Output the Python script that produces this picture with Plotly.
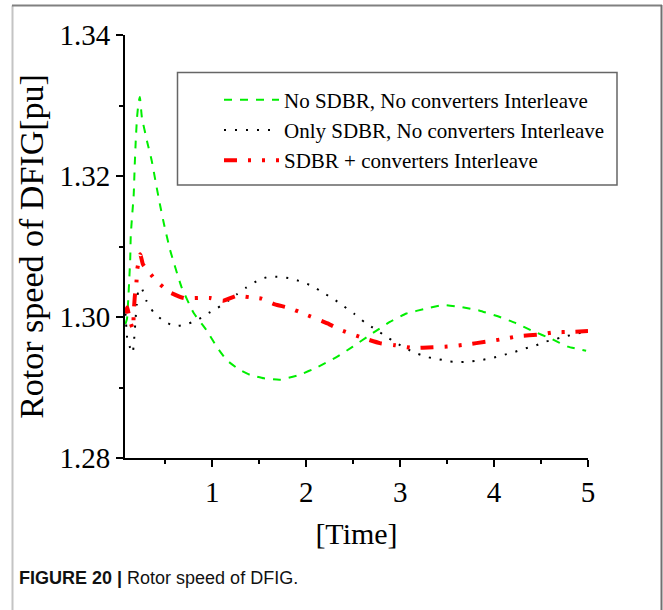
import plotly.graph_objects as go

# ---- data ----
t_green = [0.075, 0.092, 0.105, 0.116, 0.126, 0.131, 0.145, 0.163, 0.173, 0.184, 0.198, 0.215, 0.228,
           0.25, 0.307, 0.354, 0.40, 0.44, 0.485, 0.55, 0.673, 0.80, 0.939, 1.05, 1.152, 1.28, 1.40,
           1.55, 1.72, 1.93, 2.12, 2.322, 2.496, 2.695, 2.89, 3.067, 3.28, 3.456, 3.652, 3.847, 4.04,
           4.22, 4.414, 4.61, 4.786, 4.98]
w_green = [1.2990, 1.2998, 1.3026, 1.3055, 1.3084, 1.3115, 1.3142, 1.3174, 1.3213, 1.3249, 1.3283, 1.3305, 1.3312,
           1.3283, 1.3248, 1.3222, 1.3189, 1.3161, 1.3132, 1.3095, 1.3042, 1.3006, 1.2981, 1.2957, 1.2939, 1.2926, 1.2918,
           1.2913, 1.2911, 1.2918, 1.2929, 1.2943, 1.2958, 1.2976, 1.2993, 1.3005, 1.3012, 1.3017, 1.3014, 1.3009, 1.3001,
           1.2992, 1.2980, 1.2969, 1.2958, 1.2952]

t_black = [0.075, 0.095, 0.123, 0.152, 0.166, 0.184, 0.195, 0.209, 0.244, 0.294, 0.371, 0.485, 0.599, 0.705,
           0.833, 0.939, 1.046, 1.169, 1.258, 1.365, 1.488, 1.595, 1.719, 1.826, 1.95, 2.063, 2.173, 2.286,
           2.393, 2.506, 2.616, 2.73, 2.844, 2.96, 3.067, 3.184, 3.297, 3.414, 3.528, 3.645, 3.759, 3.871,
           3.982, 4.095, 4.209, 4.322, 4.432, 4.549, 4.663, 4.776, 5.0]
w_black = [1.3005, 1.2968, 1.2957, 1.2949, 1.2966, 1.3000, 1.3018, 1.3035, 1.3042, 1.3024, 1.3007, 1.2994, 1.2987, 1.2989,
           1.2995, 1.3004, 1.3012, 1.3023, 1.3032, 1.3042, 1.3052, 1.3057, 1.3057, 1.3055, 1.3050, 1.3044, 1.3035, 1.3026,
           1.3016, 1.3005, 1.2993, 1.2983, 1.2973, 1.2963, 1.2955, 1.2948, 1.2943, 1.2940, 1.2937, 1.2936, 1.2937, 1.2939,
           1.2942, 1.2946, 1.2950, 1.2955, 1.2959, 1.2965, 1.2969, 1.2973, 1.2980]

t_red = [0.075, 0.095, 0.12, 0.155, 0.163, 0.175, 0.19, 0.201, 0.233, 0.26, 0.307, 0.36, 0.414, 0.546, 0.695,
         0.85, 0.975, 1.116, 1.258, 1.40, 1.525, 1.666, 1.815, 1.985, 2.227, 2.376, 2.588, 2.783, 2.943,
         3.137, 3.35, 3.503, 3.705, 3.918, 4.06, 4.272, 4.474, 4.627, 4.833, 5.0]
w_red = [1.3005, 1.3014, 1.2996, 1.2983, 1.3006, 1.3030, 1.3045, 1.3068, 1.3089, 1.3075, 1.3066, 1.3058, 1.3050, 1.3035, 1.3027,
         1.3027, 1.3027, 1.3023, 1.3030, 1.3028, 1.3026, 1.3018, 1.3013, 1.3004, 1.2991, 1.2981, 1.2971, 1.2963, 1.2960,
         1.2956, 1.2957, 1.2958, 1.2961, 1.2965, 1.2968, 1.2973, 1.2975, 1.2978, 1.2979, 1.2980]

names = ["No SDBR, No converters Interleave",
         "Only SDBR, No converters Interleave",
         "SDBR + converters Interleave"]
x_ticks = [1, 2, 3, 4, 5]
y_ticks = [1.28, 1.30, 1.32, 1.34]

SERIF = "Liberation Serif"

fig = go.Figure()
fig.add_trace(go.Scatter(x=t_green, y=w_green, mode="lines", name=names[0],
                         line=dict(color="#00ee00", width=2, dash="8px,8px", shape="spline", smoothing=0.4)))
fig.add_trace(go.Scatter(x=t_black, y=w_black, mode="lines", name=names[1],
                         line=dict(color="black", width=2, dash="2px,9px", shape="spline", smoothing=0.4)))
fig.add_trace(go.Scatter(x=t_red, y=w_red, mode="lines", name=names[2],
                         line=dict(color="#ff0000", width=4, dash="13px,11px,3px,11px,3px,11px",
                                   shape="spline", smoothing=0.4)))

L, R, T, B = 125, 75, 35, 152
W, H = 663, 610
pw, ph = W - L - R, H - T - B

def px2x(px):
    return (px - L) / pw

def py2y(py):
    return (H - B - py) / ph

shapes = [
    # legend frame
    dict(type="rect", xref="paper", yref="paper", x0=px2x(177.5), x1=px2x(617), y0=py2y(185), y1=py2y(72.5),
         line=dict(color="#666666", width=1.5), fillcolor="rgba(0,0,0,0)", layer="below"),
    # outer page frame
    dict(type="line", xref="paper", yref="paper", x0=px2x(12.5), x1=px2x(12.5), y0=py2y(5.5), y1=py2y(612),
         line=dict(color="#c4c4c4", width=2)),
    dict(type="line", xref="paper", yref="paper", x0=px2x(12), x1=px2x(662), y0=py2y(5.5), y1=py2y(5.5),
         line=dict(color="#808080", width=2)),
    dict(type="line", xref="paper", yref="paper", x0=px2x(661.5), x1=px2x(661.5), y0=py2y(5), y1=py2y(612),
         line=dict(color="#707070", width=2)),
]

fig.update_layout(
    width=W, height=H,
    margin=dict(l=L, r=R, t=T, b=B, pad=0),
    paper_bgcolor="white", plot_bgcolor="white",
    font=dict(family=SERIF, color="black"),
    showlegend=True,
    legend=dict(x=px2x(219), y=py2y(79.5), xanchor="left", yanchor="top",
                bgcolor="rgba(0,0,0,0)", borderwidth=0,
                font=dict(family=SERIF, size=21, color="black"),
                itemwidth=55, tracegroupgap=0),
    shapes=shapes,
    annotations=[
        dict(text="<b>FIGURE 20 |</b> Rotor speed of DFIG.", xref="paper", yref="paper",
             x=px2x(17), y=py2y(578), xanchor="left", yanchor="middle", showarrow=False,
             font=dict(family="Liberation Sans", size=18, color="#111111")),
    ],
)

fig.update_xaxes(range=[0.07, 5.0], tickmode="array", tickvals=x_ticks, ticktext=[str(v) for v in x_ticks],
                 showline=True, linecolor="black", linewidth=2, mirror=False,
                 ticks="outside", ticklen=7, tickwidth=2, tickcolor="black",
                 minor=dict(ticks="outside", ticklen=4, tickwidth=2, tickcolor="black", dtick=0.5, tick0=0),
                 showgrid=False, zeroline=False,
                 tickfont=dict(family=SERIF, size=29),
                 title=dict(text="[Time]", font=dict(family=SERIF, size=30), standoff=16))
fig.update_yaxes(range=[1.28, 1.34], tickmode="array", tickvals=y_ticks, ticktext=[f"{v:.2f}" for v in y_ticks],
                 showline=True, linecolor="black", linewidth=2, mirror=False,
                 ticks="outside", ticklen=7, tickwidth=2, tickcolor="black",
                 minor=dict(ticks="outside", ticklen=4, tickwidth=2, tickcolor="black", dtick=0.01, tick0=1.28),
                 showgrid=False, zeroline=False,
                 tickfont=dict(family=SERIF, size=29),
                 title=dict(text="Rotor speed of DFIG[pu]", font=dict(family=SERIF, size=34), standoff=6))

fig.write_html("out.html")
